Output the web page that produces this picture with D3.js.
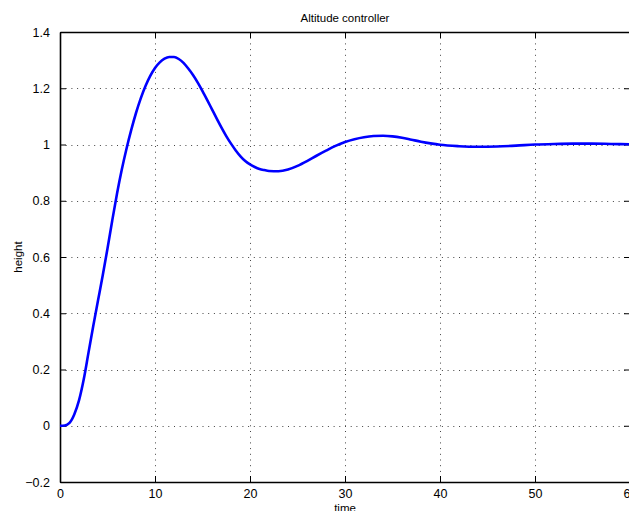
<!doctype html>
<html>
<head>
<meta charset="utf-8">
<title>Altitude controller</title>
<style>
*{margin:0;padding:0;}
body{background:white;overflow:hidden;}
text{font-family:"Liberation Sans",Arial,sans-serif;fill:#000;}
</style>
</head>
<body>
<script src="https://cdn.jsdelivr.net/npm/d3@7"></script>
<script>
// step response of the altitude loop
var time = [0, 0.5, 1, 1.5, 2, 2.5, 3, 3.5, 4, 4.5, 5, 5.5, 6, 6.5, 7, 7.5, 8, 8.5, 9, 9.5,
  10, 10.5, 11, 11.5, 12, 12.5, 13, 13.5, 14, 14.5, 15, 15.5, 16, 16.5, 17, 17.5, 18, 18.5, 19, 19.5,
  20, 20.5, 21, 21.5, 22, 23, 24, 25, 26, 27, 28, 29, 30, 31, 32, 33, 34, 35, 36, 37, 38, 39, 40,
  42, 44, 46, 48, 50, 52, 54, 56, 58, 60];
var height = [0, 0.001, 0.01, 0.04, 0.09, 0.165, 0.26, 0.355, 0.445, 0.535, 0.63, 0.73, 0.825, 0.91, 0.985, 1.052,
  1.112, 1.164, 1.208, 1.244, 1.272, 1.292, 1.305, 1.311, 1.311, 1.304, 1.29, 1.27, 1.247, 1.22,
  1.19, 1.158, 1.125, 1.092, 1.06, 1.03, 1.003, 0.979, 0.958, 0.941,
  0.929, 0.92, 0.913, 0.909, 0.906, 0.905, 0.911, 0.924, 0.941, 0.96, 0.978, 0.995, 1.009, 1.019, 1.026, 1.03, 1.031,
  1.029, 1.024, 1.017, 1.01, 1.004, 0.999, 0.994, 0.992, 0.993, 0.996, 1.0, 1.002, 1.003, 1.003, 1.002, 1.001];
var xTicks = [0, 10, 20, 30, 40, 50, 60];
var yTicks = [-0.2, 0, 0.2, 0.4, 0.6, 0.8, 1, 1.2, 1.4];

var W = 629, H = 511;
var L = 60, R = 630, T = 32, B = 482;

var svg = d3.select("body").append("svg").attr("width", W).attr("height", H);

var x = d3.scaleLinear().domain([0, 60]).range([L, R]);
var y = d3.scaleLinear().domain([-0.2, 1.4]).range([B, T]);

// dotted grid
var grid = svg.append("g").attr("stroke", "#444").attr("stroke-width", 1).attr("stroke-dasharray", "1,4.7");
grid.selectAll(".gx").data(xTicks.slice(1, -1)).enter().append("line")
  .attr("x1", function(d){ return Math.round(x(d)) + 0.5; })
  .attr("x2", function(d){ return Math.round(x(d)) + 0.5; })
  .attr("y1", T).attr("y2", B);
grid.selectAll(".gy").data(yTicks.slice(1, -1)).enter().append("line")
  .attr("y1", function(d){ return Math.round(y(d)) + 0.5; })
  .attr("y2", function(d){ return Math.round(y(d)) + 0.5; })
  .attr("x1", L).attr("x2", R);

// axes with ticks pointing inward
var fmt = function(d){ return d < 0 ? "\u2212" + Math.abs(d) : String(d); };
var ax = svg.append("g").attr("transform", "translate(0," + B + ")")
  .call(d3.axisBottom(x).tickValues(xTicks).tickSizeInner(-6).tickSizeOuter(0).tickPadding(10).tickFormat(fmt));
var axT = svg.append("g").attr("transform", "translate(0," + T + ")")
  .call(d3.axisTop(x).tickValues(xTicks).tickSizeInner(-6).tickSizeOuter(0).tickFormat(""));
var ay = svg.append("g").attr("transform", "translate(" + L + ",0)")
  .call(d3.axisLeft(y).tickValues(yTicks).tickSizeInner(-6).tickSizeOuter(0).tickPadding(10).tickFormat(fmt));
var ayR = svg.append("g").attr("transform", "translate(" + R + ",0)")
  .call(d3.axisRight(y).tickValues(yTicks).tickSizeInner(-6).tickSizeOuter(0).tickFormat(""));
[ax, axT, ay, ayR].forEach(function(g){
  g.select(".domain").attr("stroke", "#000").attr("stroke-width", 1.6);
  g.selectAll(".tick line").attr("stroke", "#000");
  g.selectAll("text").attr("font-size", 12.5).attr("fill", "#000").style("font-family", "'Liberation Sans',Arial,sans-serif");
});
ax.selectAll("text").attr("dy", "0.71em").attr("y", 7);

// response curve
var line = d3.line()
  .x(function(d, i){ return x(time[i]); })
  .y(function(d){ return y(d); })
  .curve(d3.curveMonotoneX);
svg.append("path").datum(height)
  .attr("d", line)
  .attr("fill", "none")
  .attr("stroke", "#0000ff")
  .attr("stroke-width", 2.6)
  .attr("stroke-linejoin", "round");

// labels
svg.append("text").attr("x", 345).attr("y", 22).attr("text-anchor", "middle")
  .attr("font-size", 11.5).text("Altitude controller");
svg.append("text").attr("x", 345).attr("y", 512).attr("text-anchor", "middle")
  .attr("font-size", 11.5).text("time");
svg.append("text").attr("transform", "translate(22,257) rotate(-90)").attr("text-anchor", "middle")
  .attr("font-size", 11.5).text("height");
</script>
</body>
</html>
